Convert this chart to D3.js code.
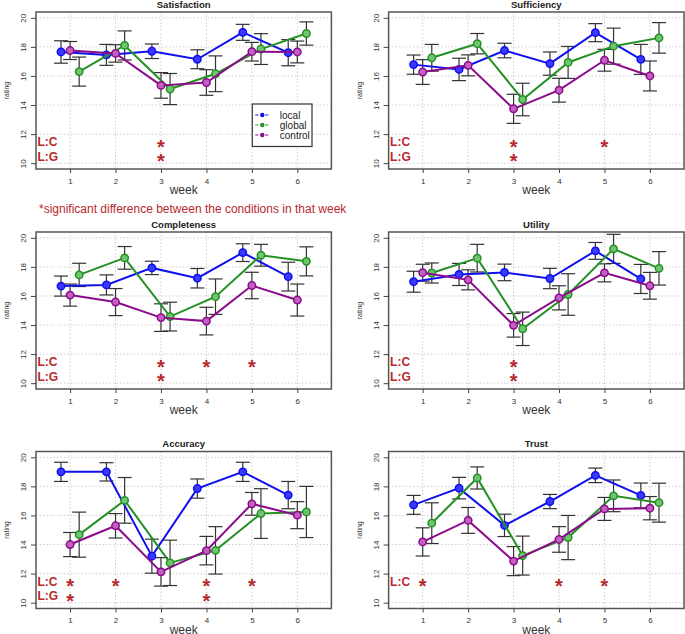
<!DOCTYPE html>
<html><head><meta charset="utf-8">
<script src="https://cdn.jsdelivr.net/npm/d3@7"></script>
<style>body{margin:0;background:#fff}svg{display:block;font-family:"Liberation Sans",Arial,sans-serif}</style>
</head><body><svg id="c" width="685" height="634"></svg>
<script>
const weeks = [1, 2, 3, 4, 5, 6];
const conditions = ["local", "global", "control"];
const panelTitles = ["Satisfaction", "Sufficiency", "Completeness", "Utility", "Accuracy", "Trust"];
const yTicks = [10, 12, 14, 16, 18, 20];

// means: rows = local, global, control
const satisfactionMean = [[17.65,17.45,17.7,17.15,19.0,17.6],[16.3,18.1,15.1,16.15,17.85,18.92],[17.75,17.55,15.35,15.55,17.67,17.65]];
const satisfactionErr  = [[0.77,0.72,0.5,0.65,0.55,0.9],[1.0,1.0,1.07,1.23,1.06,0.8],[0.62,0.6,0.88,0.88,0.64,0.75]];
const sufficiencyMean  = [[16.78,16.45,17.75,16.85,18.98,17.14],[17.25,18.22,14.38,16.93,18.05,18.62],[16.27,16.73,13.74,15.02,17.08,16.0]];
const sufficiencyErr   = [[0.66,0.77,0.5,0.8,0.62,1.03],[0.92,0.7,1.12,1.1,1.24,1.05],[0.85,0.72,1.0,0.82,0.75,1.03]];
const completenessMean = [[16.68,16.76,17.93,17.22,18.98,17.33],[17.45,18.62,14.58,15.95,18.8,18.38],[16.06,15.58,14.51,14.27,16.72,15.72]];
const completenessErr  = [[0.69,0.69,0.46,0.67,0.61,0.99],[0.8,0.78,0.99,1.22,0.75,1.0],[0.76,0.93,0.95,0.95,0.91,1.1]];
const utilityMean      = [[16.98,17.48,17.62,17.2,19.1,17.17],[17.58,18.6,13.74,16.1,19.24,17.9],[17.6,17.11,13.98,15.87,17.59,16.7]];
const utilityErr       = [[0.72,0.76,0.57,0.7,0.58,1.0],[0.69,0.95,1.15,1.43,1.0,1.15],[0.58,0.69,0.81,0.83,0.62,0.92]];
const accuracyMean     = [[19.0,19.0,13.2,17.85,19.0,17.4],[14.68,17.04,12.74,13.6,16.13,16.24],[14.0,15.29,12.12,13.58,16.8,16.02]];
const accuracyErr      = [[0.66,0.63,1.17,0.66,0.66,0.94],[1.55,1.57,1.56,1.63,1.71,1.76],[0.83,0.84,0.98,0.98,0.78,0.93]];
const trustMean        = [[16.73,17.88,15.32,16.96,18.76,17.38],[15.47,18.58,13.24,14.48,17.35,16.88],[14.18,15.66,12.86,14.35,16.45,16.5]];
const trustErr         = [[0.65,0.74,0.77,0.49,0.5,0.85],[1.4,0.76,1.34,1.52,1.09,1.34],[0.97,0.89,1.0,0.88,0.79,0.8]];

// significance marks (weeks with *)
const sigLC = [[3],[3,5],[3,4,5],[3],[1,2,4,5],[1,4,5]];
const sigLG = [[3],[3],[3],[3],[1,4],[]];

const panelMeans = [satisfactionMean, sufficiencyMean, completenessMean, utilityMean, accuracyMean, trustMean];
const panelErrs  = [satisfactionErr, sufficiencyErr, completenessErr, utilityErr, accuracyErr, trustErr];

const colors = {local: "#1010ee", global: "#259025", control: "#8b0b8b"};
const fills  = {local: "#3a3aff", global: "#6fc56f", control: "#c060c0"};
const dodge  = {local: -0.2, global: 0.2, control: 0};
const red = "#b8282e";

const svg = d3.select("#c");
const W = 295.4, H = 157;
const colX = [36, 388.6];
const rowY = [12, 232, 451.5];

const x = d3.scaleLinear().domain([0.25, 6.75]).range([0, W]);
const y = d3.scaleLinear().domain([9.6, 20.4]).range([H, 0]);

panelTitles.forEach((title, pi) => {
  const g = svg.append("g").attr("transform", `translate(${colX[pi % 2]},${rowY[Math.floor(pi / 2)]})`);
  // grid
  g.selectAll(".gx").data(weeks).join("line")
    .attr("x1", d => x(d)).attr("x2", d => x(d)).attr("y1", 0).attr("y2", H)
    .attr("stroke", "#cfcfcf").attr("stroke-dasharray", "1.5,2").attr("stroke-width", 1);
  g.selectAll(".gy").data(yTicks).join("line")
    .attr("y1", d => y(d)).attr("y2", d => y(d)).attr("x1", 0).attr("x2", W)
    .attr("stroke", "#cfcfcf").attr("stroke-dasharray", "1.5,2").attr("stroke-width", 1);

  const means = panelMeans[pi], errs = panelErrs[pi];
  // error bars
  conditions.forEach((c, ci) => {
    weeks.forEach((w, wi) => {
      const cx = x(w + dodge[c]);
      const m = means[ci][wi], e = errs[ci][wi];
      const eg = g.append("g").attr("stroke", "#333").attr("stroke-width", 1.2);
      eg.append("line").attr("x1", cx).attr("x2", cx).attr("y1", y(m - e)).attr("y2", y(m + e));
      eg.append("line").attr("x1", cx - 7).attr("x2", cx + 7).attr("y1", y(m - e)).attr("y2", y(m - e));
      eg.append("line").attr("x1", cx - 7).attr("x2", cx + 7).attr("y1", y(m + e)).attr("y2", y(m + e));
    });
  });
  // lines & points
  conditions.forEach((c, ci) => {
    const pts = weeks.map((w, wi) => [w + dodge[c], means[ci][wi]]);
    g.append("path").attr("d", d3.line().x(d => x(d[0])).y(d => y(d[1]))(pts))
      .attr("fill", "none").attr("stroke", colors[c]).attr("stroke-width", 2);
    g.selectAll(null).data(pts).join("circle")
      .attr("cx", d => x(d[0])).attr("cy", d => y(d[1])).attr("r", 3.7)
      .attr("fill", fills[c]).attr("stroke", colors[c]).attr("stroke-width", 1.5);
  });
  // significance
  g.append("text").attr("x", 1.5).attr("y", y(11.45) + 4.3).text("L:C")
    .attr("fill", red).attr("font-size", 12).attr("font-weight", "bold");
  if (sigLG[pi].length)
    g.append("text").attr("x", 1.5).attr("y", y(10.45) + 4.3).text("L:G")
      .attr("fill", red).attr("font-size", 12).attr("font-weight", "bold");
  g.selectAll(null).data(sigLC[pi]).join("text").attr("x", d => x(d)).attr("y", y(11.45) + 11.5)
    .attr("text-anchor", "middle").attr("font-size", 20).attr("font-weight", "bold").attr("fill", red).text("*");
  g.selectAll(null).data(sigLG[pi]).join("text").attr("x", d => x(d)).attr("y", y(10.45) + 11.5)
    .attr("text-anchor", "middle").attr("font-size", 20).attr("font-weight", "bold").attr("fill", red).text("*");

  // box
  g.append("rect").attr("width", W).attr("height", H).attr("fill", "none").attr("stroke", "#555").attr("stroke-width", 1.5);

  // axes
  const xa = g.append("g").attr("transform", `translate(0,${H})`)
    .call(d3.axisBottom(x).tickValues(weeks).tickSize(4).tickPadding(5).tickFormat(d3.format("d")));
  xa.select(".domain").remove();
  xa.selectAll("line").attr("stroke", "#444");
  xa.selectAll("text").attr("font-size", 8).attr("fill", "#333").attr("font-family", "Liberation Sans, Arial, sans-serif");
  const ya = g.append("g").call(d3.axisLeft(y).tickValues(yTicks).tickSize(5).tickFormat(d3.format("d")));
  ya.select(".domain").remove();
  ya.selectAll("line").attr("stroke", "#444");
  ya.selectAll("text").attr("font-size", 8).attr("fill", "#333").attr("font-family", "Liberation Sans, Arial, sans-serif")
    .attr("x", null).attr("dy", null).attr("text-anchor", "middle")
    .attr("transform", "translate(-10,0) rotate(-90)");

  g.append("text").attr("x", W / 2).attr("y", -4.5).attr("text-anchor", "middle")
    .attr("font-size", 9.5).attr("font-weight", "bold").attr("fill", "#222").text(title);
  g.append("text").attr("x", W / 2).attr("y", H + 25).attr("text-anchor", "middle")
    .attr("font-size", 12).attr("fill", "#333").text("week");
  g.append("text").attr("transform", `translate(-27,${H / 2}) rotate(-90)`).attr("text-anchor", "middle")
    .attr("font-size", 7).attr("fill", "#333").text("rating");

  if (pi === 0) {
    const lg = g.append("g").attr("transform", "translate(216.3,92)");
    lg.append("rect").attr("width", 59.7).attr("height", 42.5).attr("fill", "#fff").attr("stroke", "#333").attr("stroke-width", 1.2);
    conditions.forEach((c, ci) => {
      const yy = 11 + ci * 10;
      lg.append("line").attr("x1", 3).attr("x2", 17.5).attr("y1", yy).attr("y2", yy)
        .attr("stroke", colors[c]).attr("stroke-width", 1.2).attr("stroke-dasharray", "3,2");
      lg.append("circle").attr("cx", 10).attr("cy", yy).attr("r", 2.2).attr("fill", colors[c]);
      lg.append("text").attr("x", 27.5).attr("y", yy + 3.8).attr("font-size", 10).attr("fill", "#222").text(c);
    });
  }
});

svg.append("text").attr("x", 39).attr("y", 213).attr("font-size", 12).attr("fill", red)
  .text("*significant difference between the conditions in that week");
</script></body></html>
